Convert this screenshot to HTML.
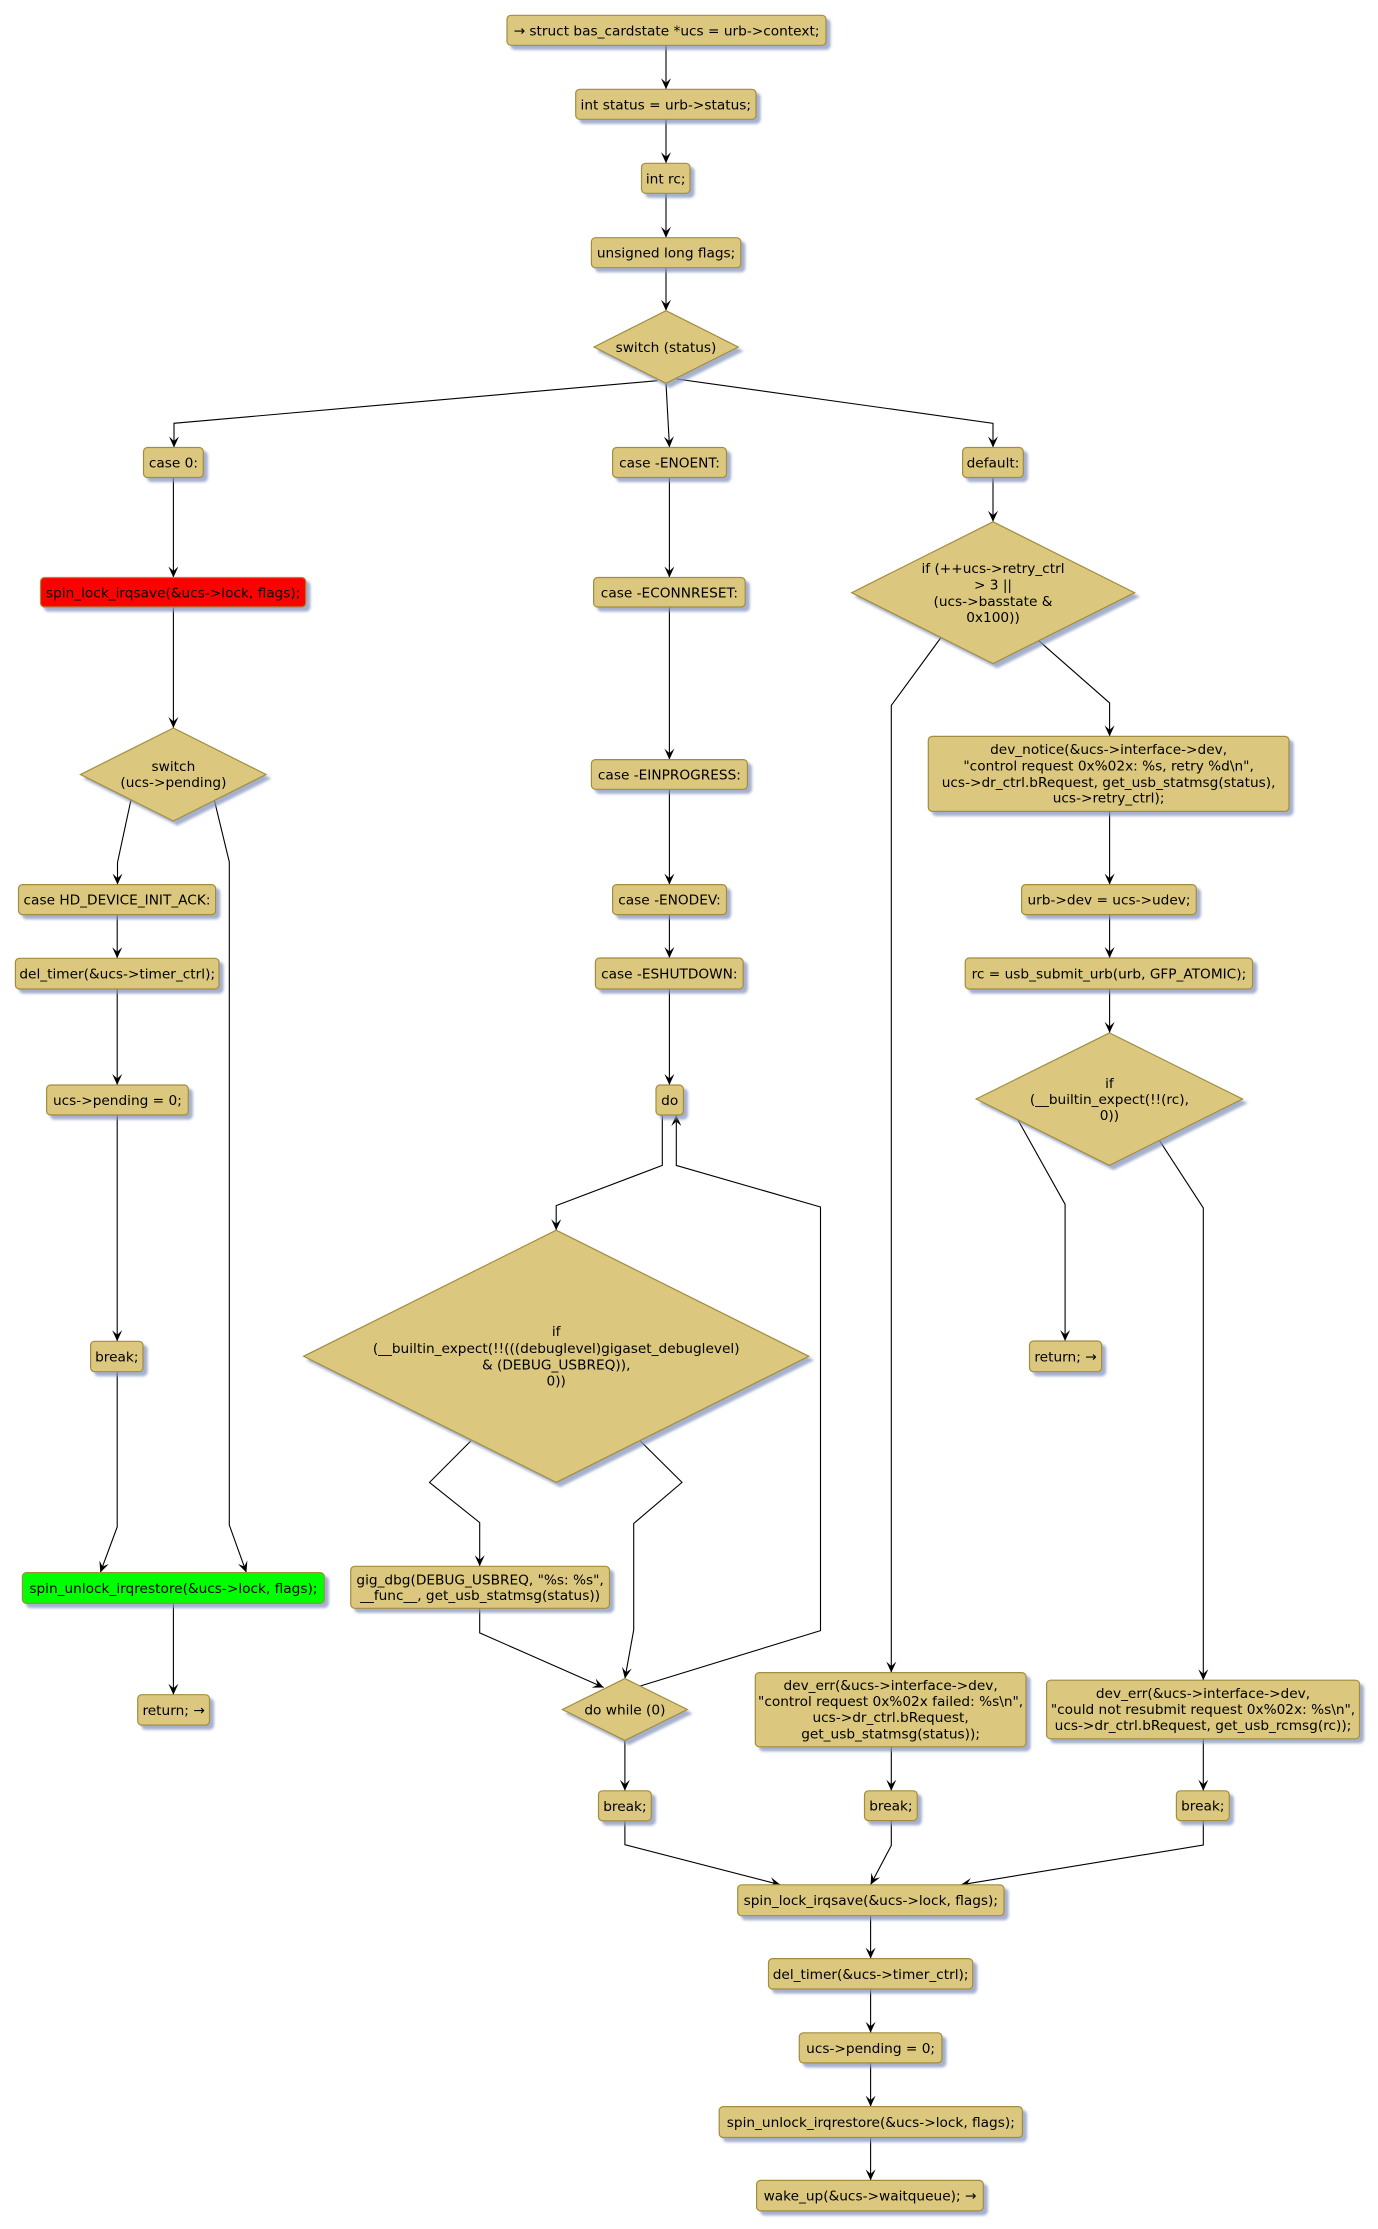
<!DOCTYPE html>
<html>
<head>
<meta charset="utf-8">
<style>
html,body{margin:0;padding:0;background:#fff;}
svg{display:block;}
.b{fill:#DBC87E;stroke:#A38D3C;stroke-width:1.2;filter:url(#s);}
.r{fill:#FF0000;stroke:#A38D3C;stroke-width:1.2;filter:url(#s);}
.g{fill:#00FF00;stroke:#A38D3C;stroke-width:1.2;filter:url(#s);}
.l{fill:none;stroke:#000;stroke-width:1.1;}
.a{fill:none;stroke:#000;stroke-width:1.1;marker-end:url(#ar);}
text{font-family:"DejaVu Sans","Liberation Sans",sans-serif;font-size:13.7px;fill:#000;text-anchor:middle;}
</style>
</head>
<body>
<svg width="1378" height="2229" viewBox="0 0 1378 2229" xmlns="http://www.w3.org/2000/svg">
<defs>
<marker id="ar" markerUnits="userSpaceOnUse" markerWidth="14" markerHeight="12" viewBox="-12 -6 14 12" refX="0" refY="0" orient="auto">
<path d="M0,0 L-11,-5 L-6.5,0 L-11,5 Z" fill="#000"/>
</marker>
<filter id="s" filterUnits="userSpaceOnUse" x="0" y="0" width="1378" height="2229">
<feGaussianBlur in="SourceAlpha" stdDeviation="1.3"/>
<feOffset dx="4" dy="4" result="bl"/>
<feFlood flood-color="#8796bd" flood-opacity="0.75"/>
<feComposite in2="bl" operator="in"/>
<feMerge><feMergeNode/><feMergeNode in="SourceGraphic"/></feMerge>
</filter>
</defs>

<!-- ===== connectors ===== -->
<!-- top column -->
<line class="a" x1="666" y1="45.3" x2="666" y2="89.3"/>
<line class="a" x1="666" y1="119.3" x2="666" y2="163.3"/>
<line class="a" x1="666" y1="193.3" x2="666" y2="237.7"/>
<line class="a" x1="666" y1="267.7" x2="666" y2="310.7"/>
<polyline class="a" points="657.3,380.7 174,423.3 174,447.5"/>
<polyline class="a" points="666,383.3 669.5,447.5"/>
<polyline class="a" points="676.7,379 993,423.3 993,447.5"/>

<!-- left column -->
<line class="a" x1="173.4" y1="477.5" x2="173.4" y2="577.5"/>
<line class="a" x1="173.4" y1="607" x2="173.4" y2="728"/>
<polyline class="a" points="131,799.7 117.5,862.5 117.5,884.6"/>
<polyline class="a" points="214.3,800 229.3,862 229.3,1525 246.4,1572.6"/>
<line class="a" x1="117.2" y1="914.6" x2="117.2" y2="958.3"/>
<line class="a" x1="117.2" y1="989" x2="117.2" y2="1085"/>
<line class="a" x1="117.2" y1="1115" x2="117.2" y2="1341.3"/>
<polyline class="a" points="117.2,1371.7 117.2,1527 100.3,1572.6"/>
<line class="a" x1="173.4" y1="1603.4" x2="173.4" y2="1694.7"/>

<!-- middle column -->
<line class="a" x1="669.4" y1="477.5" x2="669.4" y2="577.5"/>
<line class="a" x1="669.4" y1="607" x2="669.4" y2="759.6"/>
<line class="a" x1="669.4" y1="789.3" x2="669.4" y2="884.6"/>
<line class="a" x1="669.4" y1="914.6" x2="669.4" y2="958"/>
<line class="a" x1="669.4" y1="989" x2="669.4" y2="1085"/>
<polyline class="a" points="662.3,1115 662.3,1165.4 556.2,1205.6 556.2,1230.2"/>
<polyline class="a" points="470.9,1440.9 429.5,1482.4 479.7,1522.6 479.7,1566.3"/>
<polyline class="a" points="640.3,1441 682,1482.4 633.7,1523.5 633.7,1630 624.9,1678.6"/>
<polyline class="a" points="479.7,1608.3 479.7,1632.9 603.7,1687.5"/>
<polyline class="a" points="640.3,1686 820.5,1630.6 820.5,1207 676.3,1165.4 676.3,1115"/>
<line class="a" x1="624.9" y1="1740.4" x2="624.9" y2="1790.8"/>
<polyline class="a" points="624.9,1820.9 624.9,1844.7 780.4,1884.8"/>

<!-- right column -->
<line class="a" x1="993" y1="477.5" x2="993" y2="521.8"/>
<polyline class="a" points="941,637.5 891.3,705.4 891.3,1672.6"/>
<polyline class="a" points="1038.7,640.7 1109.6,702.9 1109.6,736.4"/>
<line class="a" x1="1109.6" y1="811.4" x2="1109.6" y2="884.6"/>
<line class="a" x1="1109.6" y1="914.6" x2="1109.6" y2="958"/>
<line class="a" x1="1109.6" y1="989" x2="1109.6" y2="1032.9"/>
<polyline class="a" points="1018,1120 1065.1,1204.3 1065.1,1341"/>
<polyline class="a" points="1159.7,1140.9 1203.3,1207.9 1203.3,1680.2"/>
<line class="a" x1="891.3" y1="1746.8" x2="891.3" y2="1790.8"/>
<line class="a" x1="1203.3" y1="1738.8" x2="1203.3" y2="1790.8"/>
<polyline class="a" points="891.3,1820.6 891.3,1845.5 870.6,1884.8"/>
<polyline class="a" points="1203.3,1820.6 1203.3,1845 960.8,1884.8"/>

<!-- bottom column -->
<line class="a" x1="870.6" y1="1915.7" x2="870.6" y2="1958.6"/>
<line class="a" x1="870.6" y1="1989" x2="870.6" y2="2032.8"/>
<line class="a" x1="870.6" y1="2062.9" x2="870.6" y2="2106.6"/>
<line class="a" x1="870.6" y1="2137.5" x2="870.6" y2="2180.4"/>

<!-- ===== nodes ===== -->
<!-- top column -->
<rect class="b" x="507" y="15.3" width="319" height="30" rx="4"/>
<text x="666.5" y="35.3">→ struct bas_cardstate *ucs = urb-&gt;context;</text>
<rect class="b" x="575.7" y="89.3" width="180.3" height="30" rx="4"/>
<text x="665.8" y="109.3">int status = urb-&gt;status;</text>
<rect class="b" x="641.5" y="163.3" width="48.5" height="30" rx="4"/>
<text x="665.7" y="183.3">int rc;</text>
<rect class="b" x="591.4" y="237.7" width="149.4" height="30" rx="4"/>
<text x="666.1" y="257.7">unsigned long flags;</text>
<polygon class="b" points="666,310.7 738.2,347 666,383.3 594,347"/>
<text x="666" y="352">switch (status)</text>

<!-- left column -->
<rect class="b" x="143.5" y="447.5" width="59.8" height="30" rx="4"/>
<text x="173.4" y="467.5">case 0:</text>
<rect class="r" x="40.5" y="577.5" width="265.3" height="29.5" rx="4"/>
<text x="173.2" y="597.3">spin_lock_irqsave(&amp;ucs-&gt;lock, flags);</text>
<polygon class="b" points="173.4,728 266,774.5 173.4,821 80.5,774.5"/>
<text x="173.4" y="771">switch</text>
<text x="173.4" y="787">(ucs-&gt;pending)</text>
<rect class="b" x="18.5" y="884.6" width="197.1" height="30" rx="4"/>
<text x="117" y="904.6">case HD_DEVICE_INIT_ACK:</text>
<rect class="b" x="15.4" y="958.3" width="203.6" height="30.7" rx="4"/>
<text x="117.2" y="978.6">del_timer(&amp;ucs-&gt;timer_ctrl);</text>
<rect class="b" x="46.6" y="1085" width="141.7" height="30" rx="4"/>
<text x="117.4" y="1105">ucs-&gt;pending = 0;</text>
<rect class="b" x="90.6" y="1341.3" width="52.4" height="30.4" rx="4"/>
<text x="116.8" y="1361.5">break;</text>
<rect class="g" x="22.4" y="1572.6" width="301.9" height="30.8" rx="4"/>
<text x="173.4" y="1593">spin_unlock_irqrestore(&amp;ucs-&gt;lock, flags);</text>
<rect class="b" x="137.7" y="1694.7" width="71.8" height="30.4" rx="4"/>
<text x="173.6" y="1715">return; →</text>

<!-- middle column -->
<rect class="b" x="612.6" y="447.5" width="113.9" height="30" rx="4"/>
<text x="669.5" y="467.5">case -ENOENT:</text>
<rect class="b" x="593.6" y="577.5" width="151.6" height="29.5" rx="4"/>
<text x="669.4" y="597.3">case -ECONNRESET:</text>
<rect class="b" x="591.4" y="759.6" width="156" height="29.7" rx="4"/>
<text x="669.4" y="779.5">case -EINPROGRESS:</text>
<rect class="b" x="612.6" y="884.6" width="113.9" height="30" rx="4"/>
<text x="669.5" y="904.6">case -ENODEV:</text>
<rect class="b" x="595.4" y="958" width="147.8" height="31" rx="4"/>
<text x="669.3" y="978.5">case -ESHUTDOWN:</text>
<rect class="b" x="656" y="1085" width="27.4" height="30" rx="4"/>
<text x="669.7" y="1105">do</text>
<polygon class="b" points="556.2,1230.2 808.8,1356.3 556.2,1482.4 303.6,1356.3"/>
<text x="556.2" y="1336">if</text>
<text x="556.2" y="1353">(__builtin_expect(!!(((debuglevel)gigaset_debuglevel)</text>
<text x="556.2" y="1369.5">&amp; (DEBUG_USBREQ)),</text>
<text x="556.2" y="1385.5">0))</text>
<rect class="b" x="350.7" y="1566.3" width="258.8" height="42" rx="4"/>
<text x="480.1" y="1584.5">gig_dbg(DEBUG_USBREQ, "%s: %s",</text>
<text x="480.1" y="1600">__func__, get_usb_statmsg(status))</text>
<polygon class="b" points="624.9,1678.6 687.3,1709.5 624.9,1740.4 562.4,1709.5"/>
<text x="624.9" y="1714.5">do while (0)</text>
<rect class="b" x="598.5" y="1790.8" width="52.8" height="30.1" rx="4"/>
<text x="624.9" y="1810.9">break;</text>

<!-- right column -->
<rect class="b" x="962.6" y="447.5" width="60.7" height="30" rx="4"/>
<text x="993" y="467.5">default:</text>
<polygon class="b" points="993,521.8 1134.6,592.7 993,663.6 851.7,592.7"/>
<text x="993" y="573">if (++ucs-&gt;retry_ctrl</text>
<text x="993" y="589.6">&gt; 3 ||</text>
<text x="993" y="606">(ucs-&gt;basstate &amp;</text>
<text x="993" y="622">0x100))</text>
<rect class="b" x="928.3" y="736.4" width="360.7" height="75" rx="4"/>
<text x="1108.6" y="754">dev_notice(&amp;ucs-&gt;interface-&gt;dev,</text>
<text x="1108.6" y="770.5">"control request 0x%02x: %s, retry %d\n",</text>
<text x="1108.6" y="787">ucs-&gt;dr_ctrl.bRequest, get_usb_statmsg(status),</text>
<text x="1108.6" y="802.5">ucs-&gt;retry_ctrl);</text>
<rect class="b" x="1021.6" y="884.6" width="174.7" height="30" rx="4"/>
<text x="1109" y="904.6">urb-&gt;dev = ucs-&gt;udev;</text>
<rect class="b" x="965.2" y="958" width="287.4" height="31" rx="4"/>
<text x="1108.9" y="978.5">rc = usb_submit_urb(urb, GFP_ATOMIC);</text>
<polygon class="b" points="1109.4,1032.9 1242.5,1099 1109.4,1165.4 976.2,1099"/>
<text x="1109.4" y="1088">if</text>
<text x="1109.4" y="1104">(__builtin_expect(!!(rc),</text>
<text x="1109.4" y="1120">0))</text>
<rect class="b" x="1029.5" y="1341" width="72.1" height="30.7" rx="4"/>
<text x="1065.5" y="1361.3">return; →</text>
<rect class="b" x="755.3" y="1672.6" width="270.7" height="74.2" rx="4"/>
<text x="890.6" y="1690">dev_err(&amp;ucs-&gt;interface-&gt;dev,</text>
<text x="890.6" y="1706">"control request 0x%02x failed: %s\n",</text>
<text x="890.6" y="1722">ucs-&gt;dr_ctrl.bRequest,</text>
<text x="890.6" y="1738.5">get_usb_statmsg(status));</text>
<rect class="b" x="1046.6" y="1680.2" width="312.9" height="58.6" rx="4"/>
<text x="1203" y="1698">dev_err(&amp;ucs-&gt;interface-&gt;dev,</text>
<text x="1203" y="1714">"could not resubmit request 0x%02x: %s\n",</text>
<text x="1203" y="1730.2">ucs-&gt;dr_ctrl.bRequest, get_usb_rcmsg(rc));</text>
<rect class="b" x="864.5" y="1790.8" width="52.8" height="29.8" rx="4"/>
<text x="890.9" y="1810.7">break;</text>
<rect class="b" x="1176.4" y="1790.8" width="52.9" height="29.8" rx="4"/>
<text x="1202.8" y="1810.7">break;</text>

<!-- bottom column -->
<rect class="b" x="737.7" y="1884.8" width="266.3" height="30.9" rx="4"/>
<text x="870.8" y="1905.2">spin_lock_irqsave(&amp;ucs-&gt;lock, flags);</text>
<rect class="b" x="768.5" y="1958.6" width="204.2" height="30.4" rx="4"/>
<text x="870.6" y="1978.8">del_timer(&amp;ucs-&gt;timer_ctrl);</text>
<rect class="b" x="799.3" y="2032.8" width="142.6" height="30.1" rx="4"/>
<text x="870.6" y="2052.9">ucs-&gt;pending = 0;</text>
<rect class="b" x="719.2" y="2106.6" width="303.2" height="30.9" rx="4"/>
<text x="870.8" y="2127">spin_unlock_irqrestore(&amp;ucs-&gt;lock, flags);</text>
<rect class="b" x="756.6" y="2180.4" width="226.7" height="30.5" rx="4"/>
<text x="870" y="2200.6">wake_up(&amp;ucs-&gt;waitqueue); →</text>
</svg>
</body>
</html>
